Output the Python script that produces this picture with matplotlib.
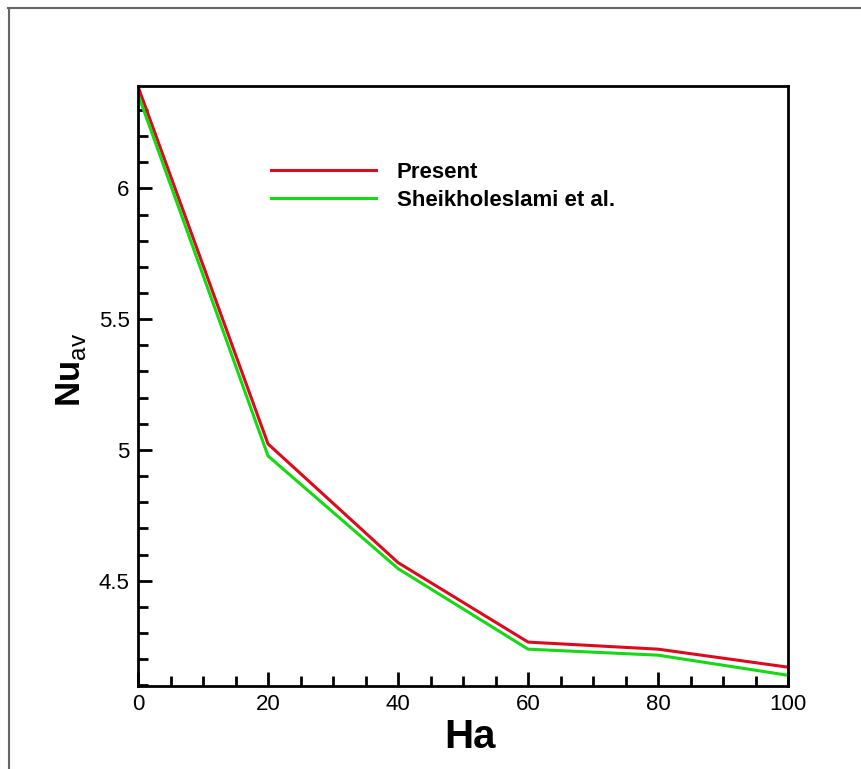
import numpy as np
import matplotlib.pyplot as plt
from matplotlib.lines import Line2D
from matplotlib.ticker import MultipleLocator

plt.rcParams['font.family'] = ['Liberation Sans', 'DejaVu Sans']
plt.rcParams['mathtext.fontset'] = 'custom'
plt.rcParams['mathtext.rm'] = 'Liberation Sans'
plt.rcParams['mathtext.bf'] = 'Liberation Sans:bold'

# average Nusselt number against Hartmann number
ha = [0, 20, 40, 60, 80, 100]
nu_present = [6.39, 5.023, 4.569, 4.265, 4.238, 4.169]
nu_sheikh = [6.36, 4.977, 4.546, 4.238, 4.215, 4.138]
labels = ["Present", "Sheikholeslami et al."]

fig = plt.figure(figsize=(8.61, 7.69), dpi=100)
ax = fig.add_axes([0.1603, 0.1079, 0.755, 0.7803])

ax.plot(ha, nu_present, color="#dd0a1e", lw=2.2, label=labels[0])
ax.plot(ha, nu_sheikh, color="#14d914", lw=2.2, label=labels[1])

ax.set_xlim(0, 100)
ax.set_ylim(4.097, 6.392)
ax.xaxis.set_major_locator(MultipleLocator(20))
ax.xaxis.set_minor_locator(MultipleLocator(5))
ax.yaxis.set_major_locator(MultipleLocator(0.5))
ax.yaxis.set_minor_locator(MultipleLocator(0.1))
ax.set_yticks([4.5, 5, 5.5, 6])
ax.set_yticklabels(["4.5", "5", "5.5", "6"])

ax.tick_params(which="both", direction="in", top=False, right=False,
               labelsize=16, width=2, pad=6)
ax.tick_params(which="major", length=10)
ax.tick_params(which="minor", length=7)
for s in ax.spines.values():
    s.set_linewidth(2)

ax.set_xlabel("Ha", fontsize=29, fontweight="bold", labelpad=2, x=0.51)
ax.set_ylabel(r"$\mathbf{Nu}_{\mathrm{av}}$", fontsize=25, labelpad=8, y=0.527)

ax.legend(frameon=False, loc="upper left", bbox_to_anchor=(0.205, 0.873),
          prop={"weight": "bold", "size": 16},
          handlelength=4.7, handletextpad=0.95, labelspacing=0.3,
          borderpad=0, borderaxespad=0)

# thin grey border around the figure
fig.add_artist(Line2D([8 / 861, 1], [1 - 8 / 769, 1 - 8 / 769],
                      transform=fig.transFigure, color="#666666", lw=1.5))
fig.add_artist(Line2D([9 / 861, 9 / 861], [0, 1 - 8 / 769],
                      transform=fig.transFigure, color="#666666", lw=1.5))

fig.savefig("out.png", dpi=100)
